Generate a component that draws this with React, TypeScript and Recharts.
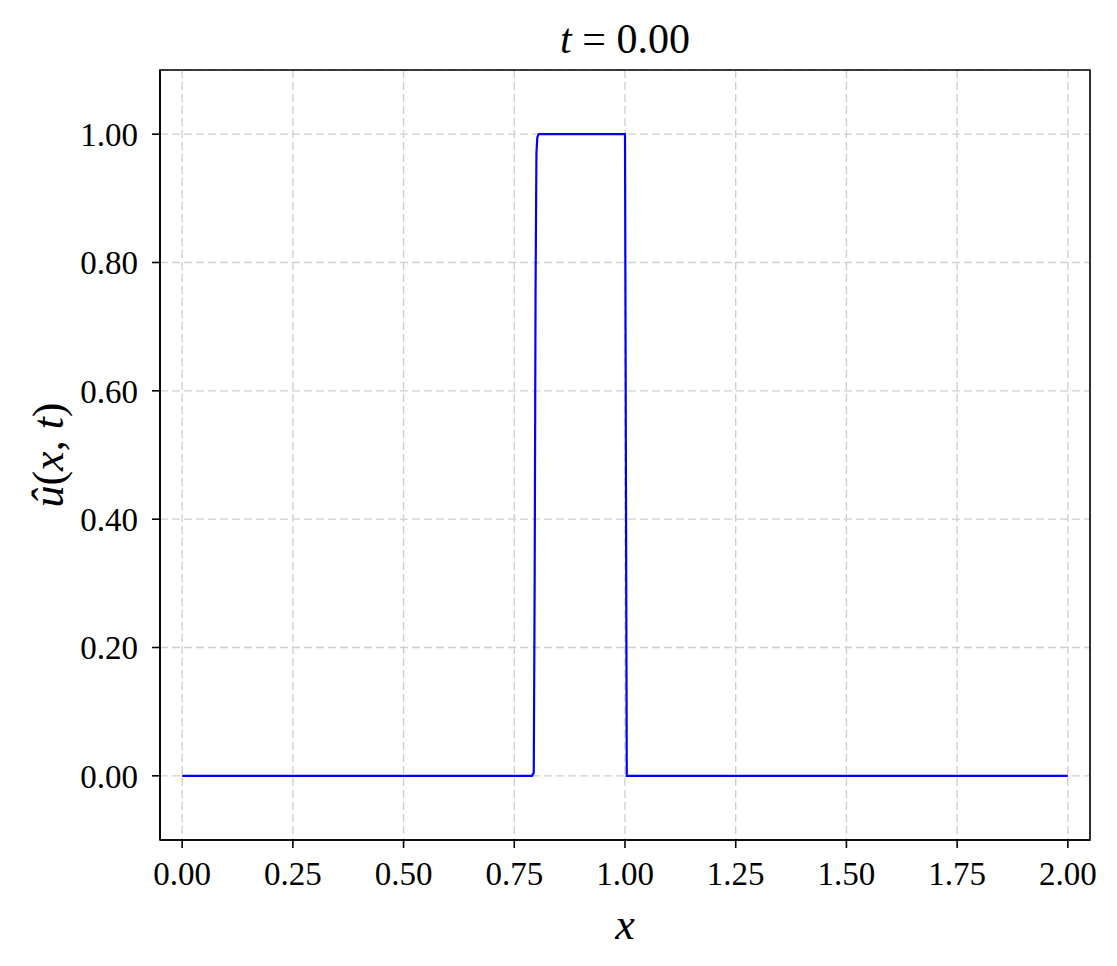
import React from 'react';
import { LineChart, Line, XAxis, YAxis, CartesianGrid, ReferenceArea } from 'recharts';

// sampled solution u(x, 0): square pulse between x = 0.8 and x = 1.0
const xs = [0, 0.25, 0.5, 0.75, 0.79, 0.794, 0.796, 0.798, 0.8, 0.802, 0.805, 1.0, 1.002, 1.004, 1.25, 1.5, 1.75, 2.0];
const us = [0, 0, 0, 0, 0, 0.005, 0.3, 0.75, 0.97, 0.995, 1.0, 1.0, 0.5, 0, 0, 0, 0, 0];

const xTicks = [0, 0.25, 0.5, 0.75, 1.0, 1.25, 1.5, 1.75, 2.0];
const yTicks = [0, 0.2, 0.4, 0.6, 0.8, 1.0];

const title = '0.00';

const data = xs.map((x, i) => ({ x, u: us[i] }));

const FONT = '"Liberation Serif", "DejaVu Serif", serif';
const tickStyle = { fontFamily: FONT, fontSize: 33, fill: '#000' };

const App = () => {
  return (
    <div style={{ position: 'absolute', left: 0, top: 0, width: 1117, height: 966, background: '#fff' }}>
      <LineChart
        width={1117}
        height={966}
        data={data}
        margin={{ top: 70, right: 27, left: 60, bottom: 66 }}
      >
        <CartesianGrid stroke="#d0d0d0" strokeDasharray="8 4" strokeWidth={1.4} />
        <XAxis
          dataKey="x"
          type="number"
          domain={[-0.05, 2.05]}
          ticks={xTicks}
          tickFormatter={(v: number) => v.toFixed(2)}
          height={60}
          tickSize={8}
          tickMargin={14}
          tick={tickStyle}
          stroke="#000"
          axisLine={{ stroke: '#000', strokeWidth: 1.6 }}
          tickLine={{ stroke: '#000', strokeWidth: 1.6 }}
          allowDataOverflow
        />
        <YAxis
          type="number"
          domain={[-0.1, 1.1]}
          ticks={yTicks}
          tickFormatter={(v: number) => v.toFixed(2)}
          width={100}
          tickSize={8}
          tickMargin={14}
          tick={tickStyle}
          stroke="#000"
          axisLine={{ stroke: '#000', strokeWidth: 1.6 }}
          tickLine={{ stroke: '#000', strokeWidth: 1.6 }}
          allowDataOverflow
        />
        <ReferenceArea x1={-0.05} x2={2.05} y1={-0.1} y2={1.1} fill="none" stroke="#000" strokeWidth={1.6} />
        <Line
          type="linear"
          dataKey="u"
          stroke="#0000ff"
          strokeWidth={2.2}
          dot={false}
          isAnimationActive={false}
        />
      </LineChart>
      <svg
        width={1117}
        height={966}
        style={{ position: 'absolute', left: 0, top: 0, pointerEvents: 'none' }}
      >
        <text x={625} y={53} textAnchor="middle" fontFamily={FONT} fontSize={42} fill="#000">
          <tspan fontStyle="italic">t</tspan>
          <tspan> = {title}</tspan>
        </text>
        <text x={625} y={939} textAnchor="middle" fontFamily={FONT} fontSize={44} fontStyle="italic" fill="#000">
          x
        </text>
        <text
          x={0}
          y={0}
          transform="translate(63, 455) rotate(-90)"
          textAnchor="middle"
          fontFamily={FONT}
          fontSize={44}
          fill="#000"
        >
          <tspan fontStyle="italic">û</tspan>
          <tspan>(</tspan>
          <tspan fontStyle="italic">x</tspan>
          <tspan>, </tspan>
          <tspan fontStyle="italic">t</tspan>
          <tspan>)</tspan>
        </text>
      </svg>
    </div>
  );
};

export default App;
